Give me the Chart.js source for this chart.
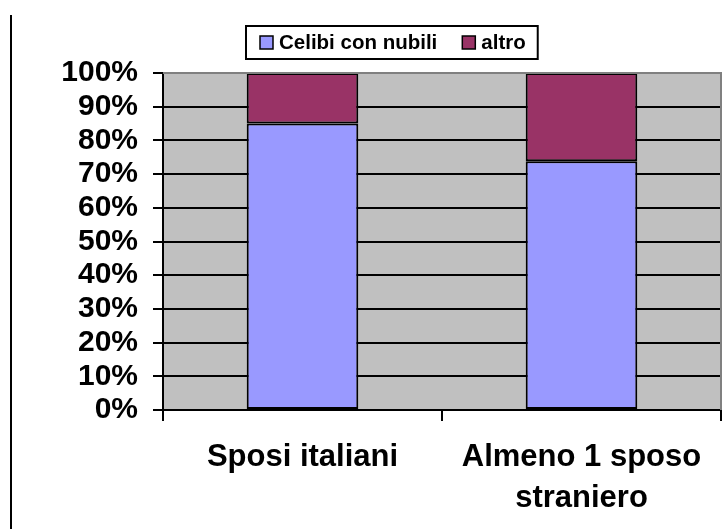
<!DOCTYPE html>
<html>
<head>
<meta charset="utf-8">
<script src="https://cdn.jsdelivr.net/npm/chart.js@4/dist/chart.umd.min.js"></script>
<style>
  html, body { margin: 0; padding: 0; background: #fff; }
  #wrap { width: 722px; height: 529px; position: relative; }
</style>
</head>
<body>
<div id="wrap"><canvas id="chart" width="722" height="529"></canvas></div>
<script>
/* ── DATA ─────────────────────────────────────────────── */
const categories = [['Sposi italiani'], ['Almeno 1 sposo', 'straniero']];
const seriesNames = ['Celibi con nubili', 'altro'];
const celibiValues = [85, 73.8];
const altroValues = [15, 26.2];
const yTicks = [0, 10, 20, 30, 40, 50, 60, 70, 80, 90, 100];

const FONT = "'Liberation Sans', Arial, sans-serif";

/* ── PLOT FRAME + LEFT RULE ───────────────────────────── */
const framePlugin = {
  id: 'frame',
  beforeDraw(chart) {
    const { ctx, chartArea: a } = chart;
    ctx.save();
    ctx.fillStyle = '#C0C0C0';
    ctx.fillRect(a.left, a.top, a.right - a.left, a.bottom - a.top);
    ctx.restore();
  },
  afterDraw(chart) {
    const { ctx, chartArea: a } = chart;
    ctx.save();
    // gray plot border (top + right)
    ctx.strokeStyle = '#808080';
    ctx.lineWidth = 2;
    ctx.beginPath();
    ctx.moveTo(a.left, a.top);
    ctx.lineTo(a.right, a.top);
    ctx.lineTo(a.right, a.bottom);
    ctx.stroke();
    // left page rule
    ctx.strokeStyle = '#000';
    ctx.lineWidth = 2;
    ctx.beginPath();
    ctx.moveTo(11, 15);
    ctx.lineTo(11, 529);
    ctx.stroke();
    ctx.restore();
  }
};

/* ── BOXED LEGEND ─────────────────────────────────────── */
const boxLegendPlugin = {
  id: 'boxLegend',
  afterDraw(chart) {
    const { ctx } = chart;
    const left = 246, top = 26, h = 33;
    const sq = 13, padL = 14, gapTxt = 6, gapItem = 25, padR = 12;
    ctx.save();
    ctx.font = 'bold 20.5px ' + FONT;
    ctx.textBaseline = 'middle';
    let x = left + padL;
    const cy = top + h / 2;
    chart.data.datasets.forEach((ds, i) => {
      ctx.fillStyle = ds.backgroundColor;
      ctx.fillRect(x, cy - sq / 2, sq, sq);
      ctx.strokeStyle = '#000';
      ctx.lineWidth = 1.5;
      ctx.strokeRect(x, cy - sq / 2, sq, sq);
      x += sq + gapTxt;
      ctx.fillStyle = '#000';
      ctx.fillText(ds.label, x, cy + 1);
      x += ctx.measureText(ds.label).width;
      if (i < chart.data.datasets.length - 1) x += gapItem;
    });
    const w = x + padR - left;
    ctx.strokeStyle = '#000';
    ctx.lineWidth = 2;
    ctx.strokeRect(left, top, w, h);
    ctx.restore();
  }
};

new Chart(document.getElementById('chart'), {
  type: 'bar',
  data: {
    labels: categories,
    datasets: [
      {
        label: seriesNames[0],
        data: celibiValues,
        backgroundColor: '#9999FF',
        borderColor: '#000',
        borderWidth: 2,
        borderSkipped: false,
        barPercentage: 0.4,
        categoryPercentage: 1,
      },
      {
        label: seriesNames[1],
        data: altroValues,
        backgroundColor: '#993366',
        borderColor: '#000',
        borderWidth: 2,
        borderSkipped: false,
        barPercentage: 0.4,
        categoryPercentage: 1,
      },
    ],
  },
  options: {
    responsive: false,
    animation: false,
    layout: { padding: { top: 73, right: 1, left: 0, bottom: 0 } },
    plugins: {
      legend: { display: false },
      tooltip: { enabled: false },
    },
    scales: {
      x: {
        stacked: true,
        grid: { offset: true, drawOnChartArea: false, color: '#000', lineWidth: 2, tickLength: 11 },
        border: { color: '#000', width: 2 },
        ticks: {
          color: '#000',
          font: { size: 31, weight: 'bold', family: FONT, lineHeight: 1.32 },
          padding: 16,
          maxRotation: 0,
          autoSkip: false,
        },
        afterFit: s => { s.height = 119; },
      },
      y: {
        stacked: true,
        min: 0,
        max: 100,
        afterBuildTicks: s => { s.ticks = yTicks.map(v => ({ value: v })); },
        grid: {
          color: c => (c.tick && c.tick.value === 100 ? '#808080' : '#000'),
          tickColor: '#000',
          lineWidth: 2,
          tickLength: 10,
        },
        border: { color: '#000', width: 2 },
        ticks: {
          color: '#000',
          font: { size: 30, weight: 'bold', family: FONT },
          padding: 15,
          autoSkip: false,
          callback: v => v + '%',
        },
        afterFit: s => { s.width = 163; },
      },
    },
  },
  plugins: [framePlugin, boxLegendPlugin],
});
</script>
</body>
</html>
